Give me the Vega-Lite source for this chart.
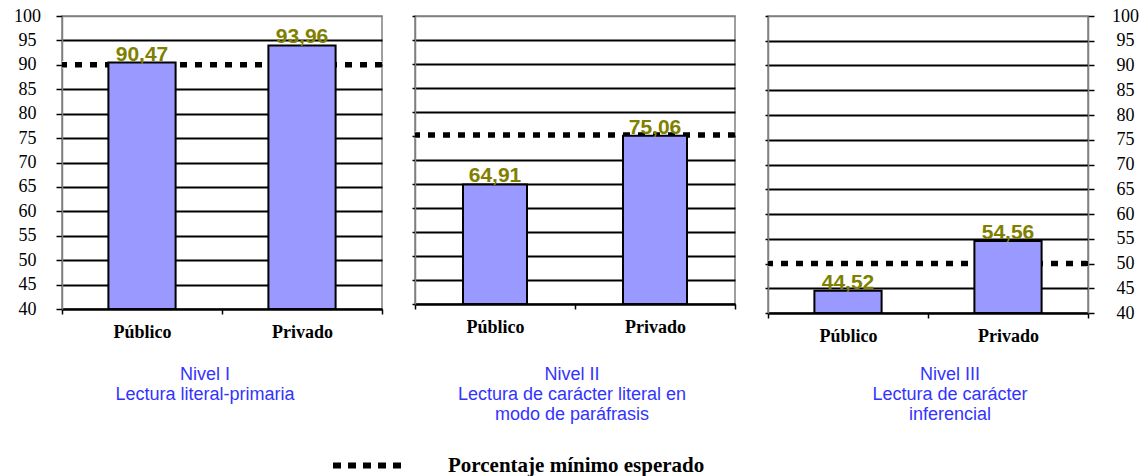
{
  "$schema": "https://vega.github.io/schema/vega-lite/v6.json",
  "background": "white",
  "autosize": {"type": "pad"},
  "padding": {"left": 12, "top": 6, "right": 5, "bottom": 5},
  "spacing": 33,
  "bounds": "flush",
  "datasets": {
    "valores": [
      {"nivel": "I", "sector": "Público", "valor": 90.47},
      {"nivel": "I", "sector": "Privado", "valor": 93.96},
      {"nivel": "II", "sector": "Público", "valor": 64.91},
      {"nivel": "II", "sector": "Privado", "valor": 75.06},
      {"nivel": "III", "sector": "Público", "valor": 44.52},
      {"nivel": "III", "sector": "Privado", "valor": 54.56}
    ],
    "umbral": [
      {"nivel": "I", "minimo": 90, "serie": "Porcentaje mínimo esperado"},
      {"nivel": "II", "minimo": 75.2, "serie": "Porcentaje mínimo esperado"},
      {"nivel": "III", "minimo": 50, "serie": "Porcentaje mínimo esperado"}
    ]
  },
  "hconcat": [
    {
      "width": 320,
      "height": 293,
      "title": {"text": ["Nivel I", "Lectura literal-primaria"], "dx": -17, "offset": 25},
      "resolve": {"axis": {"y": "independent"}},
      "layer": [
        {
          "data": {"name": "umbral"},
          "transform": [{"filter": "datum.nivel == 'I'"}],
          "mark": {"type": "rule", "strokeWidth": 7, "color": "#FFFFFF"},
          "encoding": {
            "y": {"field": "minimo", "type": "quantitative", "scale": {"domain": [40, 100], "zero": false, "nice": false},
              "axis": {"orient": "left", "values": [40,45,50,55,60,65,70,75,80,85,90,95,100], "labelOverlap": false, "labels": true, "labelAlign": "center", "labelPadding": 29, "tickSize": 6, "grid": true}}
          }
        },
        {
          "data": {"name": "umbral"},
          "transform": [{"filter": "datum.nivel == 'I'"}],
          "mark": {"type": "rule", "strokeWidth": 5.5, "strokeDash": [7, 8]},
          "encoding": {
            "y": {"field": "minimo", "type": "quantitative", "axis": null},
            "color": {"field": "serie", "type": "nominal", "scale": {"range": ["#000000"]}}
          }
        },
        {
          "data": {"name": "valores"},
          "transform": [{"filter": "datum.nivel == 'I'"}],
          "mark": {"type": "bar", "fill": "#9999FF", "stroke": "#000000", "strokeWidth": 2, "width": {"band": 0.42}},
          "encoding": {
            "x": {"field": "sector", "type": "nominal", "sort": ["Público", "Privado"], "scale": {"paddingInner": 0, "paddingOuter": 0}},
            "y": {"field": "valor", "type": "quantitative", "axis": null},
            "y2": {"datum": 40}
          }
        },
        {
          "data": {"name": "valores"},
          "transform": [{"filter": "datum.nivel == 'I'"}],
          "mark": {"type": "text", "font": "Liberation Sans", "fontWeight": "bold", "fontSize": 21, "color": "#808000", "baseline": "alphabetic", "dy": -2},
          "encoding": {
            "x": {"field": "sector", "type": "nominal", "sort": ["Público", "Privado"]},
            "y": {"field": "valor", "type": "quantitative", "axis": null},
            "text": {"field": "valor", "type": "quantitative", "format": ".2f"}
          }
        }
      ]
    },
    {
      "width": 320,
      "height": 288,
      "title": {"text": ["Nivel II", "Lectura de carácter literal en", "modo de paráfrasis"], "dx": -3, "offset": 30},
      "resolve": {"axis": {"y": "independent"}},
      "layer": [
        {
          "data": {"name": "umbral"},
          "transform": [{"filter": "datum.nivel == 'II'"}],
          "mark": {"type": "rule", "strokeWidth": 7, "color": "#FFFFFF"},
          "encoding": {
            "y": {"field": "minimo", "type": "quantitative", "scale": {"domain": [40, 100], "zero": false, "nice": false},
              "axis": {"orient": "left", "values": [40,45,50,55,60,65,70,75,80,85,90,95,100], "labelOverlap": false, "labels": false, "tickSize": 3, "grid": true}}
          }
        },
        {
          "data": {"name": "umbral"},
          "transform": [{"filter": "datum.nivel == 'II'"}],
          "mark": {"type": "rule", "strokeWidth": 5.5, "strokeDash": [7, 8]},
          "encoding": {
            "y": {"field": "minimo", "type": "quantitative", "axis": null},
            "color": {"field": "serie", "type": "nominal", "scale": {"range": ["#000000"]}}
          }
        },
        {
          "data": {"name": "valores"},
          "transform": [{"filter": "datum.nivel == 'II'"}],
          "mark": {"type": "bar", "fill": "#9999FF", "stroke": "#000000", "strokeWidth": 2, "width": {"band": 0.4}},
          "encoding": {
            "x": {"field": "sector", "type": "nominal", "sort": ["Público", "Privado"], "scale": {"paddingInner": 0, "paddingOuter": 0}},
            "y": {"field": "valor", "type": "quantitative", "axis": null},
            "y2": {"datum": 40}
          }
        },
        {
          "data": {"name": "valores"},
          "transform": [{"filter": "datum.nivel == 'II'"}],
          "mark": {"type": "text", "font": "Liberation Sans", "fontWeight": "bold", "fontSize": 21, "color": "#808000", "baseline": "alphabetic", "dy": -2},
          "encoding": {
            "x": {"field": "sector", "type": "nominal", "sort": ["Público", "Privado"]},
            "y": {"field": "valor", "type": "quantitative", "axis": null},
            "text": {"field": "valor", "type": "quantitative", "format": ".2f"}
          }
        }
      ]
    },
    {
      "width": 320,
      "height": 297,
      "title": {"text": ["Nivel III", "Lectura de carácter", "inferencial"], "dx": 22, "offset": 21},
      "resolve": {"axis": {"y": "independent"}},
      "layer": [
        {
          "data": {"name": "umbral"},
          "transform": [{"filter": "datum.nivel == 'III'"}],
          "mark": {"type": "rule", "strokeWidth": 7, "color": "#FFFFFF"},
          "encoding": {
            "y": {"field": "minimo", "type": "quantitative", "scale": {"domain": [40, 100], "zero": false, "nice": false},
              "axis": {"orient": "left", "values": [40,45,50,55,60,65,70,75,80,85,90,95,100], "labelOverlap": false, "labels": false, "tickSize": 3, "grid": true}}
          }
        },
        {
          "data": {"name": "umbral"},
          "transform": [{"filter": "datum.nivel == 'III'"}],
          "mark": {"type": "rule", "strokeWidth": 5.5, "strokeDash": [7, 8]},
          "encoding": {
            "y": {"field": "minimo", "type": "quantitative", "axis": null},
            "color": {"field": "serie", "type": "nominal", "scale": {"range": ["#000000"]}}
          }
        },
        {
          "data": {"name": "valores"},
          "transform": [{"filter": "datum.nivel == 'III'"}],
          "mark": {"type": "bar", "fill": "#9999FF", "stroke": "#000000", "strokeWidth": 2, "width": {"band": 0.42}},
          "encoding": {
            "x": {"field": "sector", "type": "nominal", "sort": ["Público", "Privado"], "scale": {"paddingInner": 0, "paddingOuter": 0}},
            "y": {"field": "valor", "type": "quantitative",
              "axis": {"orient": "right", "values": [40,45,50,55,60,65,70,75,80,85,90,95,100], "labelOverlap": false, "labels": true, "labelAlign": "center", "labelPadding": 31, "tickSize": 6, "grid": false}},
            "y2": {"datum": 40}
          }
        },
        {
          "data": {"name": "valores"},
          "transform": [{"filter": "datum.nivel == 'III'"}],
          "mark": {"type": "text", "font": "Liberation Sans", "fontWeight": "bold", "fontSize": 21, "color": "#808000", "baseline": "alphabetic", "dy": -2},
          "encoding": {
            "x": {"field": "sector", "type": "nominal", "sort": ["Público", "Privado"]},
            "y": {"field": "valor", "type": "quantitative", "axis": null},
            "text": {"field": "valor", "type": "quantitative", "format": ".2f"}
          }
        }
      ]
    }
  ],
  "config": {
    "locale": {"number": {"decimal": ",", "thousands": ".", "grouping": [3], "currency": ["", ""]}},
    "view": {"stroke": "#808080", "strokeWidth": 1.5},
    "title": {"orient": "bottom", "anchor": "middle", "font": "Liberation Sans", "fontSize": 18, "fontWeight": "normal", "color": "#3333FF", "lineHeight": 20},
    "axisY": {
      "title": null,
      "domain": true, "domainColor": "#808080", "domainWidth": 1.5,
      "tickColor": "#000000", "tickWidth": 1.5,
      "labelFont": "Liberation Serif", "labelFontSize": 18, "labelColor": "#000000",
      "gridColor": {"condition": {"test": "datum.value >= 100", "value": "#808080"}, "value": "#000000"},
      "gridWidth": {"condition": {"test": "datum.value >= 100", "value": 1.5}, "value": 2},
      "gridOpacity": 1
    },
    "axisX": {
      "title": null,
      "orient": "bottom",
      "labelAngle": 0,
      "domain": true, "domainColor": "#000000", "domainWidth": 2,
      "ticks": true, "tickBand": "extent", "tickSize": 5, "tickColor": "#000000", "tickWidth": 1.5,
      "labelFont": "Liberation Serif", "labelFontWeight": "bold", "labelFontSize": 18, "labelColor": "#000000", "labelPadding": 9,
      "grid": false
    },
    "legend": {
      "orient": "none", "legendX": 268, "legendY": 409,
      "title": null,
      "symbolType": "stroke", "symbolSize": 5625, "symbolStrokeWidth": 6, "symbolDash": [8, 7],
      "labelFont": "Liberation Serif", "labelFontWeight": "bold", "labelFontSize": 21, "labelColor": "#000000", "labelOffset": 37, "labelLimit": 500
    }
  }
}
